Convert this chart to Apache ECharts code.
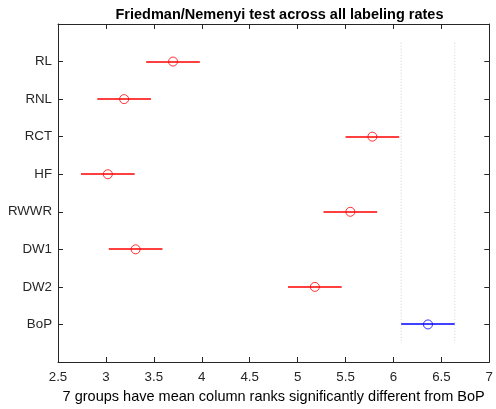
<!DOCTYPE html>
<html>
<head>
<meta charset="utf-8">
<script src="https://cdn.jsdelivr.net/npm/echarts@6/dist/echarts.min.js"></script>
<style>
  html, body { margin: 0; padding: 0; background: #fff; }
  #chart { width: 496px; height: 409px; }
</style>
</head>
<body>
<div id="chart"></div>
<script>
// groups from top to bottom
const groups = ['RL', 'RNL', 'RCT', 'HF', 'RWWR', 'DW1', 'DW2', 'BoP']
// mean column ranks
const meanRanks = [3.70, 3.19, 5.78, 3.02, 5.55, 3.31, 5.18, 6.36]
// half width of the comparison interval
const halfWidth = [0.28, 0.28, 0.28, 0.28, 0.28, 0.28, 0.28, 0.28]
const xTicks = [2.5, 3, 3.5, 4, 4.5, 5, 5.5, 6, 6.5, 7]
const refGroup = 'BoP'

const font = 'Liberation Sans, Arial, Helvetica, sans-serif'
const ink = '#262626'

const refIdx = groups.indexOf(refGroup)
const refLo = meanRanks[refIdx] - halfWidth[refIdx]
const refHi = meanRanks[refIdx] + halfWidth[refIdx]

// [lo, hi, y, isRef]
let intervals = [], redPts = [], bluePts = []
for (let i = 0; i < groups.length; i++) {
  let y = i + 1
  intervals.push([meanRanks[i] - halfWidth[i], meanRanks[i] + halfWidth[i], y, i === refIdx ? 1 : 0])
  if (i === refIdx) bluePts.push([meanRanks[i], y])
  else redPts.push([meanRanks[i], y])
}
const refLines = [[refLo, 0.5], [refLo, groups.length + 0.5], '-', [refHi, 0.5], [refHi, groups.length + 0.5]]

const yLabel = v => (v >= 1 && v <= groups.length && Number.isInteger(v)) ? groups[v - 1] : ''

const xAxisBase = {
  type: 'value', min: xTicks[0], max: xTicks[xTicks.length - 1], interval: 0.5,
  splitLine: { show: false },
  axisLine: { show: true, onZero: false, lineStyle: { color: ink, width: 1 } },
  axisTick: { show: true, inside: true, length: 5, lineStyle: { color: ink } }
}
const yAxisBase = {
  type: 'value', min: 0, max: groups.length + 1, interval: 1, inverse: true,
  splitLine: { show: false },
  axisLine: { show: true, onZero: false, lineStyle: { color: ink, width: 1 } },
  axisTick: { show: true, inside: true, length: 5, lineStyle: { color: ink } }
}

const chart = echarts.init(document.getElementById('chart'))
chart.setOption({
  animation: false,
  backgroundColor: '#fff',
  textStyle: { fontFamily: font },
  title: {
    text: 'Friedman/Nemenyi test across all labeling rates',
    left: 274.5, textAlign: 'center', top: 2,
    textStyle: { fontSize: 14.5, fontWeight: 'bold', color: '#000', fontFamily: font }
  },
  grid: { left: 58, right: 5, top: 24, bottom: 42 },
  xAxis: [
    Object.assign({}, xAxisBase, {
      position: 'bottom',
      axisLabel: { show: true, color: ink, fontSize: 13.3, margin: 9, fontFamily: font,
        formatter: v => String(v) },
      name: '7 groups have mean column ranks significantly different from ' + refGroup,
      nameLocation: 'middle', nameGap: 27,
      nameTextStyle: { color: '#000', fontSize: 14.5, fontFamily: font }
    }),
    Object.assign({}, xAxisBase, { position: 'top', axisLabel: { show: false } })
  ],
  yAxis: [
    Object.assign({}, yAxisBase, {
      position: 'left',
      axisLabel: { show: true, color: ink, fontSize: 13.3, margin: 6, fontFamily: font, formatter: yLabel }
    }),
    Object.assign({}, yAxisBase, { position: 'right', axisLabel: { show: false } })
  ],
  series: [
    {
      type: 'line', data: refLines, connectNulls: false, symbol: 'none', silent: true,
      lineStyle: { color: '#d0d0d0', width: 1, type: [1, 2] }
    },
    {
      type: 'custom', data: intervals, silent: true,
      encode: { x: [0, 1], y: 2 },
      renderItem: (params, api) => {
        let a = api.coord([api.value(0), api.value(2)])
        let b = api.coord([api.value(1), api.value(2)])
        // centre on a pixel boundary so the line covers two rows, like the original
        let yy = Math.round(a[1])
        return {
          type: 'line',
          shape: { x1: a[0], y1: yy, x2: b[0], y2: yy },
          style: { stroke: api.value(3) ? '#0000ff' : '#ff0000', lineWidth: 1.5 }
        }
      }
    },
    {
      type: 'scatter', data: redPts, symbol: 'circle', symbolSize: 9,
      itemStyle: { color: 'rgba(0,0,0,0)', borderColor: '#ff0000', borderWidth: 1 }
    },
    {
      type: 'scatter', data: bluePts, symbol: 'circle', symbolSize: 9,
      itemStyle: { color: 'rgba(0,0,0,0)', borderColor: '#0000ff', borderWidth: 1 }
    }
  ]
})
</script>
</body>
</html>
